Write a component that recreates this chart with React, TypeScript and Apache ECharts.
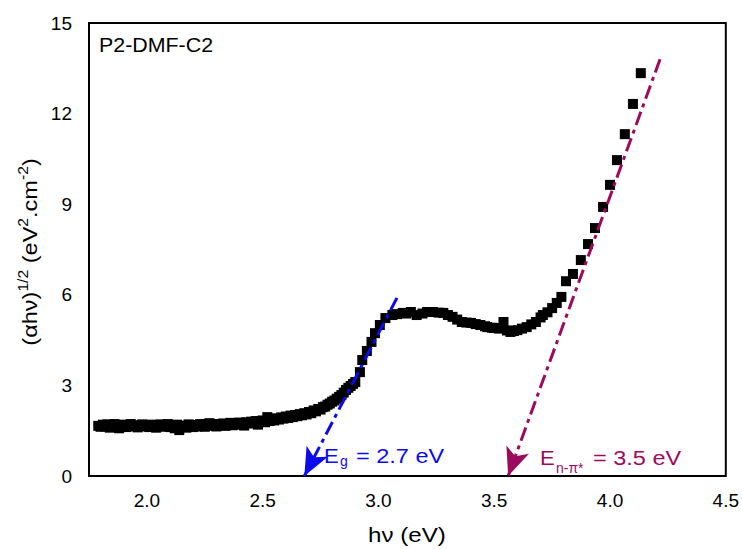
import React, { useEffect, useRef } from 'react';
import * as echarts from 'echarts';

// photon energy hν (eV)
const photonEnergy: number[] = [
  1.79, 1.80, 1.81, 1.82, 1.83, 1.84, 1.85, 1.86, 1.87, 1.88, 1.89, 1.90, 1.91, 1.92, 1.93, 1.94,
  1.95, 1.96, 1.97, 1.98, 1.99, 2.00, 2.01, 2.02, 2.03, 2.04, 2.05, 2.06, 2.07, 2.08, 2.09, 2.10,
  2.11, 2.12, 2.13, 2.14, 2.15, 2.16, 2.17, 2.18, 2.19, 2.20, 2.21, 2.22, 2.23, 2.24, 2.25, 2.26,
  2.27, 2.28, 2.29, 2.30, 2.31, 2.32, 2.33, 2.34, 2.35, 2.36, 2.37, 2.38, 2.39, 2.40, 2.41, 2.42,
  2.43, 2.44, 2.45, 2.46, 2.47, 2.48, 2.49, 2.50, 2.51, 2.52, 2.53, 2.54, 2.55, 2.56, 2.57, 2.58,
  2.59, 2.60, 2.61, 2.62, 2.63, 2.64, 2.65, 2.66, 2.67, 2.68, 2.69, 2.70, 2.71, 2.72, 2.73, 2.74,
  2.75, 2.76, 2.77, 2.78, 2.79, 2.80, 2.81, 2.82, 2.83, 2.84, 2.85, 2.86, 2.87, 2.88, 2.89, 2.90,
  2.92, 2.93, 2.95, 2.97, 2.985, 3.006, 3.03, 3.06, 3.08, 3.105, 3.12, 3.14, 3.165, 3.19, 3.21, 3.235,
  3.26, 3.28, 3.30, 3.32, 3.34, 3.36, 3.38, 3.40, 3.42, 3.44, 3.46, 3.47, 3.49, 3.50, 3.52, 3.54,
  3.555, 3.57, 3.585, 3.60, 3.62, 3.64, 3.66, 3.68, 3.70, 3.71, 3.73, 3.75, 3.77, 3.79, 3.81, 3.84,
  3.874, 3.905, 3.935, 3.97, 4.00, 4.03, 4.064, 4.099, 4.133,
];

// (αhν)^1/2 (eV^2.cm^-2)
const sqrtAlphaHv: number[] = [
  1.66, 1.63, 1.70, 1.64, 1.71, 1.60, 1.67, 1.72, 1.63, 1.58, 1.66, 1.70, 1.62, 1.67, 1.72, 1.64,
  1.68, 1.61, 1.67, 1.71, 1.64, 1.68, 1.62, 1.70, 1.65, 1.60, 1.68, 1.71, 1.63, 1.67, 1.72, 1.62,
  1.66, 1.58, 1.70, 1.52, 1.62, 1.67, 1.60, 1.71, 1.65, 1.62, 1.69, 1.64, 1.72, 1.66, 1.63, 1.70,
  1.75, 1.66, 1.70, 1.64, 1.72, 1.68, 1.74, 1.66, 1.71, 1.76, 1.68, 1.73, 1.70, 1.77, 1.72, 1.67,
  1.78, 1.74, 1.80, 1.75, 1.82, 1.70, 1.79, 1.84, 1.78, 1.95, 1.82, 1.88, 1.84, 1.91, 1.87, 1.94,
  1.90, 1.97, 1.92, 2.00, 1.95, 2.02, 1.98, 2.05, 2.01, 2.08, 2.04, 2.12, 2.08, 2.17, 2.14, 2.22,
  2.20, 2.28, 2.30, 2.36, 2.40, 2.46, 2.50, 2.56, 2.62, 2.68, 2.76, 2.85, 2.92, 2.98, 3.05, 3.11,
  3.44, 3.84, 4.14, 4.44, 4.73, 5.00, 5.23, 5.33, 5.36, 5.40, 5.38, 5.43, 5.33, 5.38, 5.43, 5.43,
  5.41, 5.40, 5.33, 5.27, 5.18, 5.10, 5.08, 5.07, 5.03, 5.00, 4.96, 4.93, 4.91, 4.90, 4.88, 5.10,
  4.82, 4.77, 4.80, 4.83, 4.88, 4.93, 5.02, 5.10, 5.25, 5.33, 5.42, 5.56, 5.73, 5.93, 6.45, 6.69,
  7.15, 7.68, 8.21, 8.91, 9.64, 10.46, 11.32, 12.32, 13.34,
];

// tangent lines (extrapolations to the energy axis)
const gapLineX: number[] = [3.08, 2.68];
const gapLineY: number[] = [5.9, 0];
const npiLineX: number[] = [4.216, 3.56];
const npiLineY: number[] = [13.8, 0];

const xTickLabels: number[] = [2.0, 2.5, 3.0, 3.5, 4.0, 4.5];

const FONT = "'Liberation Sans', Arial, sans-serif";
const BLUE = '#0b0bee';
const PURPLE = '#9c0a5e';

export default function App() {
  const ref = useRef<HTMLDivElement>(null);

  useEffect(() => {
    if (!ref.current) return;
    const chart = echarts.init(ref.current, undefined, { renderer: 'svg' });
    const points = photonEnergy.map((x, i) => [x, sqrtAlphaHv[i]]);
    const isLabel = (v: number) => xTickLabels.some((t) => Math.abs(t - v) < 1e-6);

    const dashDot = [14, 5, 4, 5];

    chart.setOption({
      animation: false,
      backgroundColor: '#ffffff',
      grid: {
        left: 89,
        right: 16,
        top: 23,
        bottom: 73,
        show: true,
        borderColor: '#000',
        borderWidth: 2,
        backgroundColor: 'transparent',
      },
      xAxis: {
        type: 'value',
        min: 1.75,
        max: 4.5,
        interval: 0.25,
        axisLine: { show: false },
        axisTick: { show: false },
        splitLine: { show: false },
        axisLabel: {
          margin: 15,
          color: '#000',
          fontSize: 19,
          fontFamily: FONT,
          showMinLabel: true,
          showMaxLabel: true,
          formatter: (v: number) => (isLabel(v) ? v.toFixed(1) : ''),
        },
      },
      yAxis: {
        type: 'value',
        min: 0,
        max: 15,
        interval: 3,
        axisLine: { show: false },
        axisTick: { show: false },
        splitLine: { show: false },
        axisLabel: {
          margin: 17,
          color: '#000',
          fontSize: 19,
          fontFamily: FONT,
        },
      },
      series: [
        {
          type: 'scatter',
          data: points,
          symbol: 'rect',
          symbolSize: [10, 10],
          itemStyle: { color: '#000', opacity: 1 },
          z: 3,
        },
        {
          type: 'scatter',
          data: [],
          z: 4,
          markLine: {
            silent: true,
            animation: false,
            symbol: ['none', 'arrow'],
            symbolSize: [18, 28],
            label: { show: false },
            emphasis: { disabled: true },
            data: [
              [
                { coord: [gapLineX[0], gapLineY[0]], lineStyle: { color: BLUE, width: 3, type: dashDot, opacity: 1 }, itemStyle: { color: BLUE } },
                { coord: [gapLineX[1], gapLineY[1]] },
              ],
              [
                { coord: [npiLineX[0], npiLineY[0]], lineStyle: { color: PURPLE, width: 3, type: dashDot, opacity: 1 }, itemStyle: { color: PURPLE } },
                { coord: [npiLineX[1], npiLineY[1]] },
              ],
            ],
          },
        },
      ],
      graphic: [
        {
          type: 'text',
          x: 99,
          y: 45,
          scaleX: 1.07,
          style: { text: 'P2-DMF-C2', font: `20px ${FONT}`, fill: '#000', textAlign: 'left', textVerticalAlign: 'middle' },
        },
        // E_g annotation
        {
          type: 'text',
          x: 324,
          y: 456,
          scaleX: 1.05,
          style: { text: 'E', font: `21px ${FONT}`, fill: BLUE, textAlign: 'left', textVerticalAlign: 'middle' },
        },
        {
          type: 'text',
          x: 340,
          y: 461,
          style: { text: 'g', font: `14px ${FONT}`, fill: BLUE, textAlign: 'left', textVerticalAlign: 'middle' },
        },
        {
          type: 'text',
          x: 356,
          y: 456,
          scaleX: 1.12,
          style: { text: '= 2.7 eV', font: `21px ${FONT}`, fill: BLUE, textAlign: 'left', textVerticalAlign: 'middle' },
        },
        // E_n-π* annotation
        {
          type: 'text',
          x: 540,
          y: 458,
          scaleX: 1.05,
          style: { text: 'E', font: `21px ${FONT}`, fill: PURPLE, textAlign: 'left', textVerticalAlign: 'middle' },
        },
        {
          type: 'text',
          x: 556,
          y: 468,
          style: { text: 'n-π*', font: `14px ${FONT}`, fill: PURPLE, textAlign: 'left', textVerticalAlign: 'middle' },
        },
        {
          type: 'text',
          x: 593,
          y: 458,
          scaleX: 1.12,
          style: { text: '= 3.5 eV', font: `21px ${FONT}`, fill: PURPLE, textAlign: 'left', textVerticalAlign: 'middle' },
        },
        // x-axis title
        {
          type: 'text',
          x: 407,
          y: 535,
          scaleX: 1.15,
          style: { text: 'hν (eV)', font: `21px ${FONT}`, fill: '#000', textAlign: 'center', textVerticalAlign: 'middle' },
        },
        // y-axis title
        {
          type: 'text',
          x: 30,
          y: 252,
          rotation: Math.PI / 2,
          scaleX: 1.12,
          style: {
            text: '{m|(αhν)}{s|1/2}{m| (eV}{s|2}{m|.cm}{s|-2}{m|)}',
            textAlign: 'center',
            textVerticalAlign: 'middle',
            fill: '#000',
            rich: {
              m: { fontSize: 21, fontFamily: FONT, lineHeight: 28, fill: '#000', color: '#000' },
              s: { fontSize: 14, fontFamily: FONT, lineHeight: 14, verticalAlign: 'top', fill: '#000', color: '#000' },
            },
          },
        },
      ],
    });

    return () => chart.dispose();
  }, []);

  return (
    <div
      ref={ref}
      style={{ position: 'fixed', left: 0, top: 0, width: 742, height: 549, background: '#fff' }}
    />
  );
}
